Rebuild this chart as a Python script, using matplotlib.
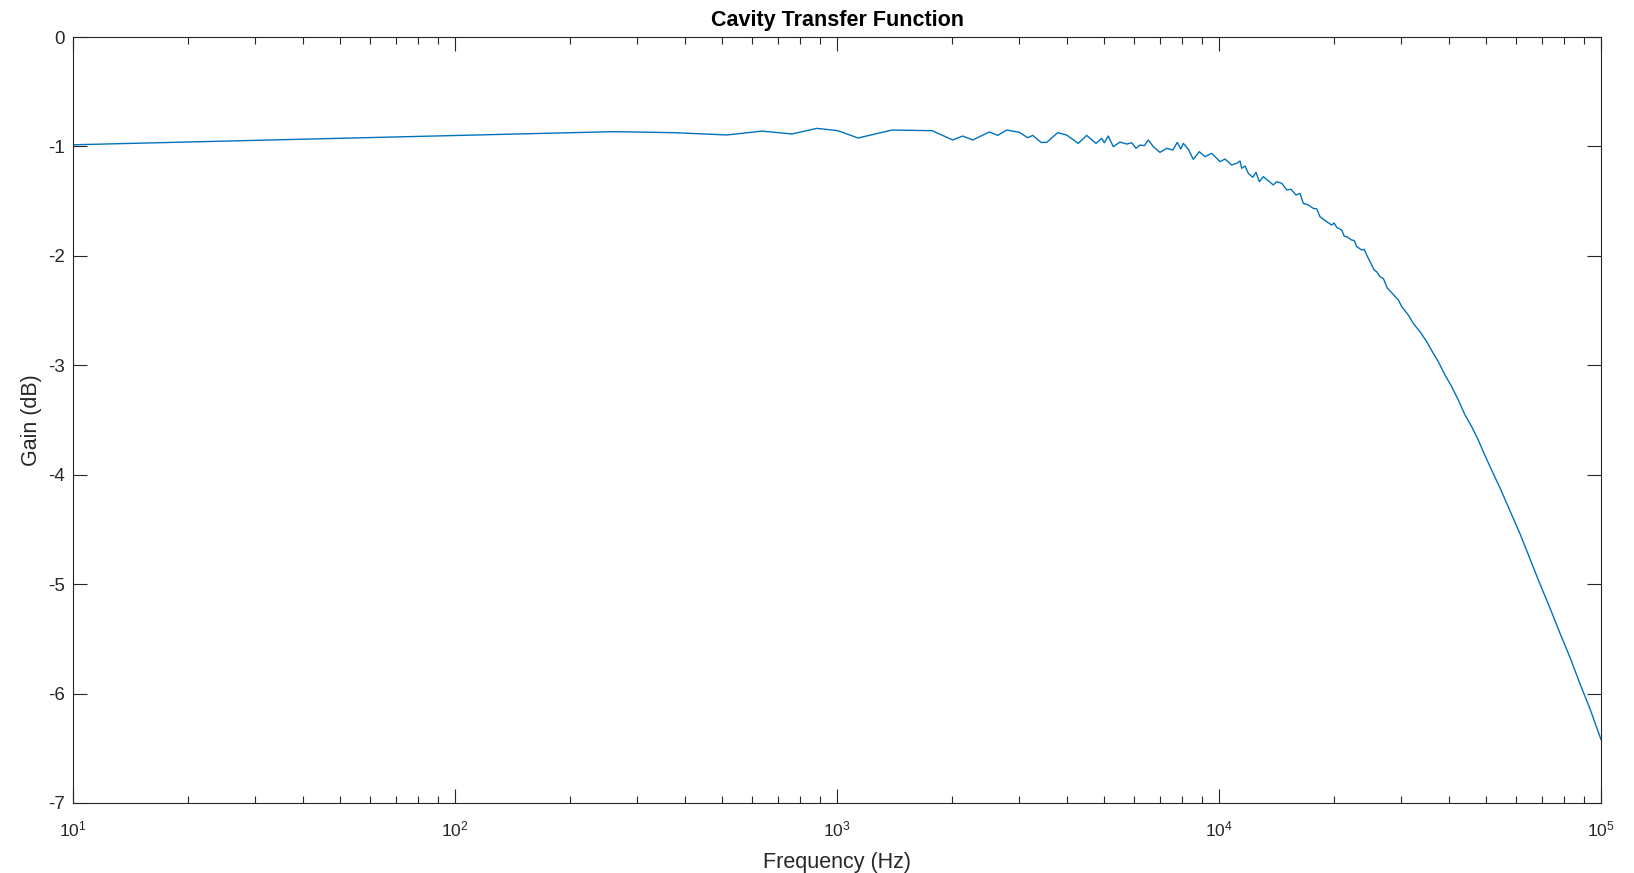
import numpy as np
import matplotlib
matplotlib.use('Agg')
import matplotlib.pyplot as plt
from matplotlib.ticker import LogLocator, FixedLocator

plt.rcParams['font.family'] = ['Liberation Sans', 'DejaVu Sans']
plt.rcParams['mathtext.fontset'] = 'custom'
plt.rcParams['mathtext.rm'] = 'Liberation Sans'
plt.rcParams['mathtext.default'] = 'regular'
plt.rcParams['axes.unicode_minus'] = False

# values
freq_hz = [10, 259, 372, 515, 636, 762, 886, 1006, 1135, 1393, 1774,
           2009, 2133, 2266, 2504, 2635, 2781, 3001, 3157, 3253, 3420, 3540,
           3782, 3994, 4282, 4504, 4764, 4931, 5007, 5130, 5288, 5506, 5734,
           5908, 6064, 6212, 6375, 6530, 6730, 7006, 7297, 7566, 7778, 7939,
           8064, 8311, 8565, 8879, 9191, 9570, 10060, 10368, 10794, 11125,
           11350, 11466, 11698, 11933, 12253, 12500, 12751, 13062, 13462,
           13874, 14161, 14594, 15041, 15437, 15910, 16293, 16623, 17131,
           17656, 18020, 18383, 19139, 19724, 20020, 20328, 20950, 21270,
           21593, 22254, 22590, 22937, 23639, 24000, 24358, 25102, 25480,
           25871, 26395, 26960, 27532, 29470, 30087, 31291, 32250, 33589,
           34971, 36392, 37507, 39049, 40665, 42309, 44055, 45867, 47730,
           49190, 51755, 54397, 57778, 61376, 65188, 69247, 73556, 78130,
           82966, 88105, 93591, 100000]
gain_db = [-0.985, -0.865, -0.874, -0.895, -0.86, -0.886, -0.835, -0.856,
           -0.923, -0.85, -0.856, -0.941, -0.905, -0.941, -0.868, -0.899,
           -0.850, -0.871, -0.920, -0.899, -0.963, -0.963, -0.874, -0.896,
           -0.972, -0.899, -0.972, -0.926, -0.966, -0.905, -1.002, -0.960,
           -0.978, -0.966, -1.017, -0.987, -0.993, -0.941, -1.002, -1.054,
           -1.017, -1.033, -0.963, -1.023, -0.972, -1.026, -1.118, -1.048,
           -1.094, -1.063, -1.139, -1.115, -1.170, -1.154, -1.133, -1.200,
           -1.179, -1.246, -1.282, -1.237, -1.322, -1.276, -1.313, -1.352,
           -1.322, -1.337, -1.398, -1.392, -1.444, -1.429, -1.520, -1.535,
           -1.566, -1.57, -1.642, -1.688, -1.718, -1.70, -1.739, -1.764,
           -1.82, -1.825, -1.855, -1.86, -1.916, -1.946, -1.94, -1.992,
           -2.084, -2.13, -2.145, -2.190, -2.21, -2.29, -2.403, -2.464,
           -2.540, -2.617, -2.693, -2.784, -2.891, -2.967, -3.089, -3.196,
           -3.317, -3.454, -3.561, -3.683, -3.79, -3.96, -4.12, -4.33,
           -4.54, -4.77, -5.00, -5.22, -5.45, -5.67, -5.91, -6.14, -6.42]

y_ticks = [0, -1, -2, -3, -4, -5, -6, -7]

axis_col = '#262626'

fig = plt.figure(figsize=(16.34, 8.73), dpi=100)
ax = fig.add_axes([0.0447, 0.0802, 0.9351, 0.8774])

ax.semilogx(freq_hz, gain_db, color='#0072BD', linewidth=1.0)

ax.set_xlim(10, 1e5)
ax.set_ylim(-7, 0)
ax.yaxis.set_major_locator(FixedLocator(y_ticks))
ax.xaxis.set_major_locator(LogLocator(base=10, numticks=10))
ax.xaxis.set_minor_locator(LogLocator(base=10, subs=np.arange(2, 10), numticks=50))

for s in ax.spines.values():
    s.set_color(axis_col)
    s.set_linewidth(0.8)

ax.tick_params(which='both', direction='in', top=True, right=True,
               color=axis_col, labelcolor=axis_col, width=0.8)
ax.tick_params(which='major', length=10)
ax.tick_params(which='minor', length=5)
ax.tick_params(axis='y', which='both', pad=6, labelsize=13.5)
ax.tick_params(axis='x', which='both', pad=12, labelsize=12.5)

ax.set_title('Cavity Transfer Function', fontsize=15.5, fontweight='bold',
             color='black', pad=8)
ax.set_xlabel('Frequency (Hz)', fontsize=15.5, color=axis_col)
ax.set_ylabel('Gain (dB)', fontsize=15.5, color=axis_col)
ax.xaxis.set_label_coords(0.5, -0.064)
ax.yaxis.set_label_coords(-0.020, 0.5)

plt.savefig('out.png', dpi=100)
